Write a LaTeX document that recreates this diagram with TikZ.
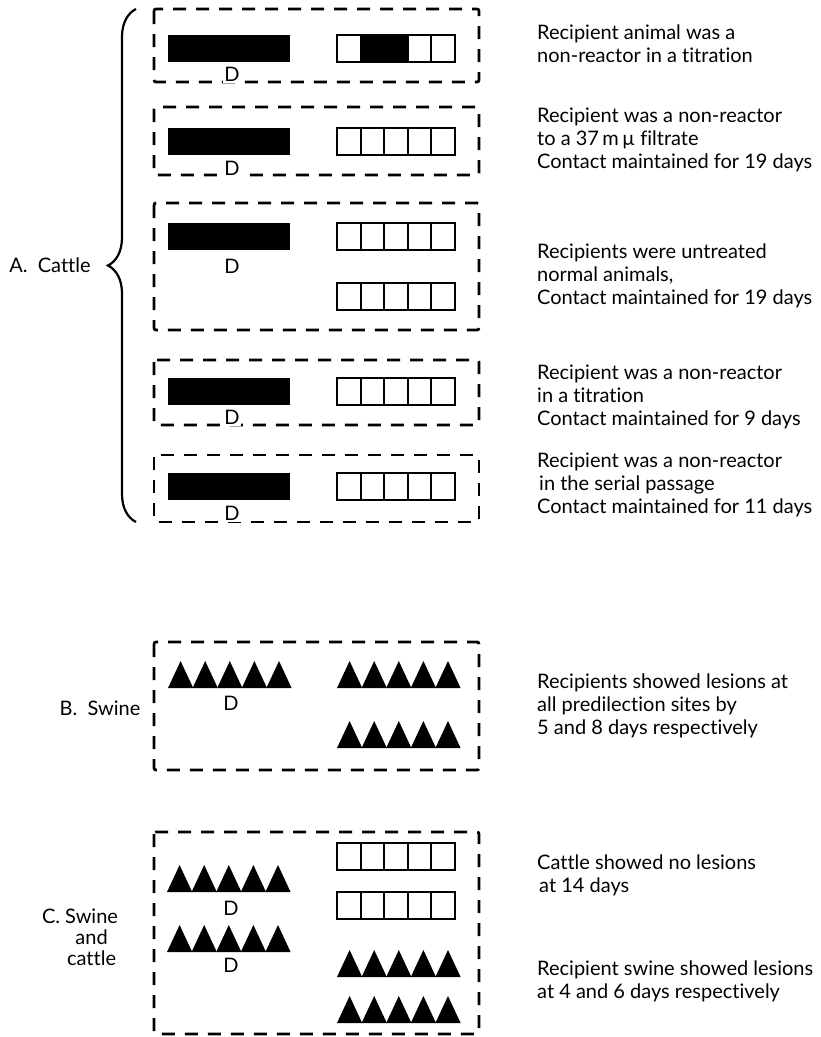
\documentclass[tikz,border=0pt]{standalone}
\usepackage{fontspec}
\setmainfont{Lato}[Ligatures={NoCommon}]
\usetikzlibrary{decorations.pathreplacing}

% one row of five empty cells (left x, top y)
\newcommand{\cattlebar}[2]{%
  \draw[cell] (#1,#2) rectangle ++(118,27);
  \foreach \k in {1,...,4} \draw[cell] (#1+\k*23.6,#2) -- ++(0,27);
}
% solid donor bar (left x, top y)
\newcommand{\donorbar}[2]{\fill (#1,#2) rectangle ++(122,27);}
% five triangles (left x, base y)
\newcommand{\swinerow}[2]{%
  \foreach \k in {0,...,4} \fill (#1+\k*24.6,#2) -- ++(12.6,-27) -- ++(12.6,27) -- cycle;
}

\begin{document}
\begin{tikzpicture}[x=1pt,y=-1pt,
    every node/.style={font=\fontsize{20}{22.8}\selectfont},
    penbox/.style={line width=2.8pt,dash pattern=on 13pt off 10pt,rounded corners=2pt},
    cell/.style={line width=2pt},
    note/.style={anchor=west,align=left,inner sep=0pt}]
  \useasboundingbox (0,0) rectangle (820,1037);

  % A. cattle
  \draw[penbox] (154,9) rectangle (479,82);
  \donorbar{168}{35}
  \fill (360.6,35) rectangle ++(47.2,27);
  \cattlebar{337}{35}
  \draw[penbox] (154,107) rectangle (479,175);
  \donorbar{168}{128}
  \cattlebar{337}{128}
  \draw[penbox] (154,203) rectangle (479,330);
  \donorbar{168}{223}
  \cattlebar{337}{223}
  \cattlebar{337}{283}
  \draw[penbox] (154,360) rectangle (479,425);
  \donorbar{168}{378}
  \cattlebar{337}{378}
  \draw[penbox] (154,455) rectangle (479,522);
  \donorbar{168}{473}
  \cattlebar{337}{473}
  \node[fill=white,inner sep=1.5pt] (d1) at (232,74) {D};
  \node[fill=white,inner sep=1.5pt] (d2) at (232,168) {D};
  \node[inner sep=1.5pt] (d3) at (232,266) {D};
  \node[fill=white,inner sep=1.5pt] (d4) at (232,417) {D};
  \node[fill=white,inner sep=1.5pt] (d5) at (232,513) {D};
  \draw[line width=2.2pt,decorate,decoration={brace,amplitude=28pt}] (136,522) -- (136,9);
  \node (labA) at (50,265) {A.\ \ Cattle};
  \node[note] (t1) at (537,43.5) {Recipient animal was a\\non-reactor in a titration};
  \node[note] (t2) at (537,140) {Recipient was a non-reactor\\to a 37\,m\,µ filtrate\\Contact maintained for 19 days};
  \node[note] (t3) at (537,276) {Recipients were untreated\\normal animals,\\Contact maintained for 19 days};
  \node[note] (t4) at (537,397) {Recipient was a non-reactor\\in a titration\\Contact maintained for 9 days};
  \node[note] (t5) at (537,485) {Recipient was a non-reactor\\\hspace{2pt}in the serial passage\\Contact maintained for 11 days};

  % B. swine
  \draw[penbox] (154,642) rectangle (479,770);
  \swinerow{168}{688}
  \swinerow{337}{688}
  \swinerow{337}{748}
  \node[inner sep=1.5pt] (d6) at (231,703) {D};
  \node (labB) at (100,708) {B.\ \ Swine};
  \node[note] (t6) at (537,706) {Recipients showed lesions at\\all predilection sites by\\5 and 8 days respectively};

  % C. swine and cattle
  \draw[penbox] (154,832) rectangle (479,1034);
  \cattlebar{337}{843}
  \cattlebar{337}{892}
  \swinerow{167}{892}
  \swinerow{167}{952}
  \swinerow{337}{977}
  \swinerow{337}{1023}
  \node[inner sep=1.5pt] (d7) at (231,908) {D};
  \node[inner sep=1.5pt] (d8) at (231,965) {D};
  \node (labC) at (80,940) {C.\ \renewcommand\arraystretch{0.93}\begin{tabular}[t]{@{}c@{}}Swine\\and\\cattle\end{tabular}};
  \node[note] (t7) at (537,875) {Cattle showed no lesions\\\hspace{2pt}at 14 days};
  \node[note] (t8) at (537,981) {Recipient swine showed lesions\\at 4 and 6 days respectively};
\end{tikzpicture}
\end{document}
